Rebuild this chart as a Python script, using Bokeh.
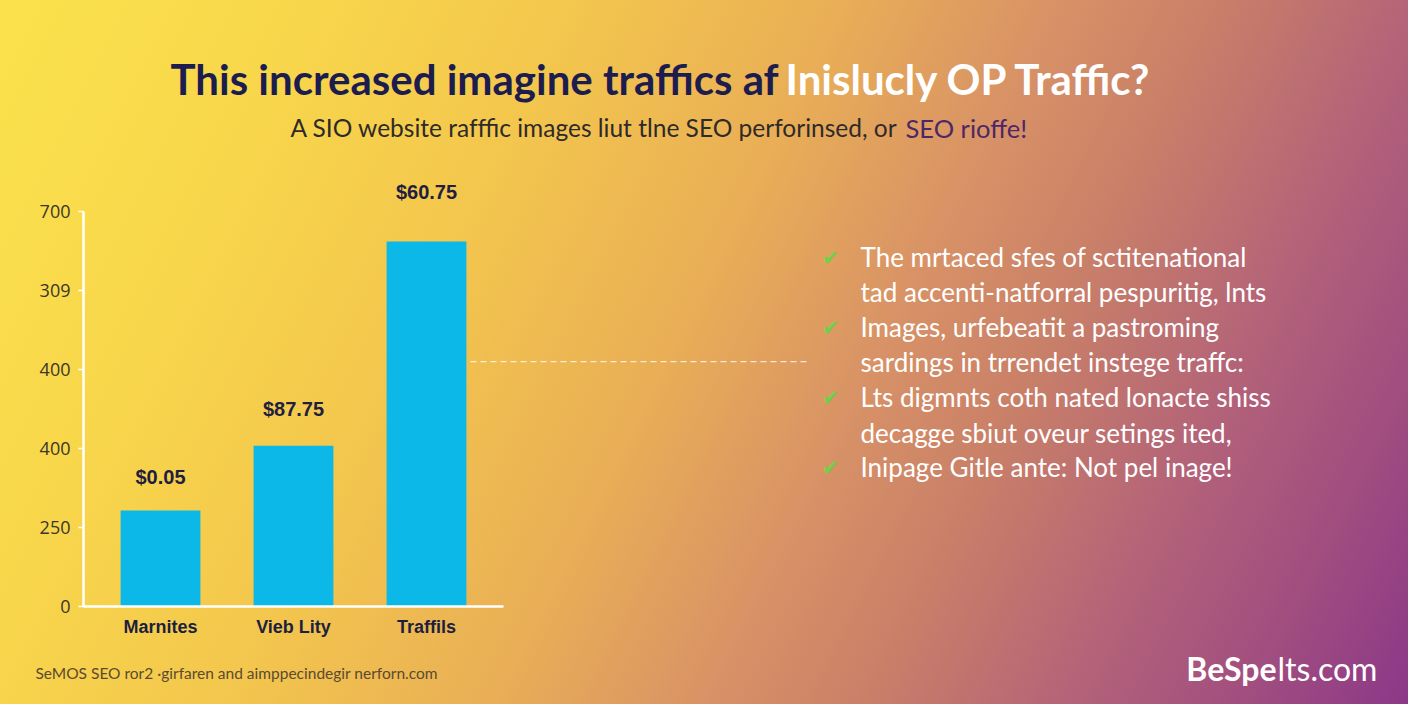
from bokeh.plotting import figure
from bokeh.models import (ColumnDataSource, FactorRange, Range1d, FixedTicker,
                          Label, LabelSet, Arrow)
from bokeh.core.properties import value
from bokeh.embed import file_html
from bokeh.resources import INLINE

# ---------------- data ----------------
categories = ["Marnites", "Vieb Lity", "Traffils"]
traffic = [170, 285, 647]
value_labels = ["$0.05", "$87.75", "$60.75"]
y_ticks = [0, 140, 280, 420, 560, 700]
y_tick_labels = ["0", "250", "400", "400", "309", "700"]
reference_level = 434

title_dark = "This increased imagine traffics af"
title_light = "Inislucly OP Traffic?"
subtitle_main = "A SIO website rafffic images liut tlne SEO perforinsed, or"
subtitle_accent = "SEO rioffe!"
bullet_lines = [
    "The mrtaced sfes of sctitenational",
    "tad accenti-natforral pespuritig, lnts",
    "Images, urfebeatit a pastroming",
    "sardings in trrendet instege traffc:",
    "Lts digmnts coth nated lonacte shiss",
    "decagge sbiut oveur setings ited,",
    "Inipage Gitle ante: Not pel inage!",
]
bullet_checked = [True, False, True, False, True, False, True]
footnote = "SeMOS SEO ror2 \u00b7girfaren and aimppecindegir nerforn.com"
brand_bold = "BeSpe"
brand_light = "lts.com"

# ---------------- layout / style ----------------
W, H = 1408, 704
CW = 520                                   # chart figure width
FL, FR, FB, FT = 83, 503, 606, 0          # chart frame edges in page pixels
AXIS_TOP_PX = 211
AXIS_TOP = 700
px_per_unit = (FB - AXIS_TOP_PX) / AXIS_TOP
y_end = (FB - FT) / px_per_unit

NAVY = "#1c1d4e"
BAR = "#0bb8e8"

# ---------- background figure (gradient + free texts) ----------
bg = figure(width=W, height=H, x_range=Range1d(0, W), y_range=Range1d(H, 0),
            x_axis_type=None, y_axis_type=None, output_backend="svg",
            toolbar_location=None, title=None, min_border=0)
bg.styles = {
    "position": "fixed", "top": "0px", "left": "0px", "z-index": "1",
    "background": "linear-gradient(116.6deg, #fbe24c 0%, #f8d64b 18%, #f3c64d 33%, "
                  "#e9ae56 48%, #d89266 60%, #c98068 69%, #b1607a 82%, #a24f7f 90%, #8c3888 100%)",
}
bg.background_fill_color = None
bg.border_fill_color = None
bg.outline_line_color = None
bg.grid.visible = False


def lab(px, py, text, **kw):
    bg.add_layout(Label(x=px, y=py, text=text, **kw))


# dashed connector from the tallest bar towards the notes
ref_py = FB - reference_level * px_per_unit
bg.add_layout(Arrow(x_start=470, y_start=ref_py, x_end=810, y_end=ref_py,
                    start=None, end=None, line_color="white", line_alpha=0.75,
                    line_width=1.3, line_dash="6 4"))

# title
lab(170, 78, title_dark, text_font="Lato", text_font_style="bold", text_font_size="42px",
    text_color=NAVY, text_baseline="alphabetic")
lab(785, 78, title_light, text_font="Lato", text_font_style="bold", text_font_size="42px",
    text_color="white", text_baseline="alphabetic")
# subtitle
lab(290, 127, subtitle_main, text_font="Lato", text_font_size="24.5px",
    text_color="#2e2a2a", text_baseline="alphabetic")
lab(905, 127, subtitle_accent, text_font="Lato", text_font_size="25.5px",
    text_color="#4e2766", text_baseline="alphabetic")

# bullet list
line_y = [256, 291.7, 326.7, 361.7, 396.7, 432, 466.7]
for t, chk, yy in zip(bullet_lines, bullet_checked, line_y):
    lab(860, yy, t, text_font="Lato", text_font_size="26px", text_color="white",
        text_baseline="middle")
    if chk:
        lab(830, yy + 1, "\u2714", text_font="DejaVu Sans", text_font_size="21px",
            text_color="#6cd24a", text_align="center", text_baseline="middle")

# footnote and brand
lab(35, 672, footnote, text_font="Lato", text_font_size="15.5px", text_color="#5b4a30",
    text_baseline="middle")
lab(1276, 668, brand_bold, text_font="Lato", text_font_style="bold", text_font_size="32px",
    text_color="white", text_align="right", text_baseline="alphabetic")
lab(1277, 668, brand_light, text_font="Lato", text_font_size="32px",
    text_color="white", text_align="left", text_baseline="alphabetic")

# ---------- chart figure (bars + axes) ----------
src = ColumnDataSource(dict(category=categories, traffic=traffic, label=value_labels,
                            lift=[34, 37, 49]))

p = figure(width=CW, height=H, x_range=FactorRange(*categories, range_padding=0.158 / 3),
           y_range=Range1d(0, y_end), output_backend="svg", toolbar_location=None,
           title=None, min_border_left=FL, min_border_right=CW - FR,
           min_border_top=FT, min_border_bottom=H - FB)
p.styles = {"position": "fixed", "top": "0px", "left": "0px", "z-index": "2"}
p.background_fill_color = None
p.border_fill_color = None
p.outline_line_color = None
p.xgrid.visible = False
p.ygrid.visible = False

p.vbar(x="category", top="traffic", width=0.6, source=src, fill_color=BAR, line_color=None)

p.add_layout(LabelSet(x="category", y="traffic", text="label", source=src, y_offset="lift",
                      text_align="center", text_baseline="middle",
                      text_font=value("Liberation Sans"), text_font_style="bold",
                      text_font_size="20px", text_color="#1f2040"))

ya = p.yaxis[0]
ya.ticker = FixedTicker(ticks=y_ticks)
ya.major_label_overrides = {t: s for t, s in zip(y_ticks, y_tick_labels)}
ya.bounds = (0, AXIS_TOP)
ya.axis_line_color = "white"
ya.axis_line_width = 2.5
ya.major_tick_line_color = "white"
ya.major_tick_line_width = 1.5
ya.major_tick_out = 5
ya.major_tick_in = 0
ya.minor_tick_line_color = None
ya.major_label_standoff = 8
ya.major_label_text_font = "Open Sans"
ya.major_label_text_font_size = "18px"
ya.major_label_text_color = "#3b3628"

xa = p.xaxis[0]
xa.axis_line_color = "white"
xa.axis_line_width = 2.5
xa.major_tick_line_color = None
xa.major_tick_out = 0
xa.major_tick_in = 0
xa.major_label_standoff = 10
xa.major_label_text_font = "Liberation Sans"
xa.major_label_text_font_style = "bold"
xa.major_label_text_font_size = "18px"
xa.major_label_text_color = "#1d1f3f"

open("out.html", "w").write(file_html([bg, p], INLINE))
